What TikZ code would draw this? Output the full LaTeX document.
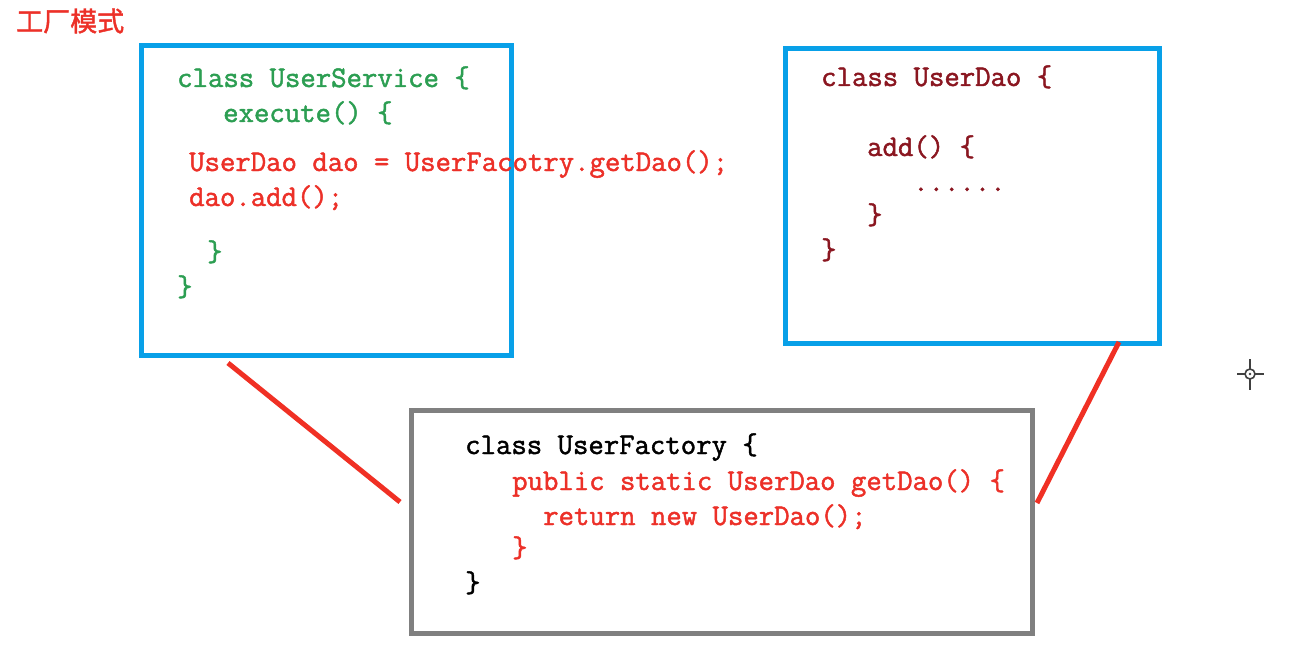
\documentclass[tikz,border=0pt]{standalone}
\usepackage{fontspec}
\newfontfamily\codefont{Latin Modern Mono}[FakeBold=1.6]
\newfontfamily\cjk[FakeBold=1.5]{Noto Sans CJK SC}
\definecolor{boxblue}{RGB}{8,160,232}
\definecolor{boxgray}{RGB}{128,128,128}
\definecolor{codegreen}{RGB}{44,158,82}
\definecolor{codered}{RGB}{236,48,40}
\definecolor{codedark}{RGB}{138,22,32}
\definecolor{linered}{RGB}{240,48,36}
\begin{document}
\begin{tikzpicture}[x=1pt,y=-1pt,
  code/.style={anchor=base west,inner sep=0pt,font=\codefont\fontsize{29.9}{29.9}\selectfont},
  bluebox/.style={draw=boxblue,line width=5pt,anchor=north west,inner sep=0pt,outer sep=0pt},
  graybox/.style={draw=boxgray,line width=5pt,anchor=north west,inner sep=0pt,outer sep=0pt},
  link/.style={draw=linered,line width=5pt}]
\useasboundingbox (0,0) rectangle (1303,666);
% title
\node[anchor=west,inner sep=0pt,text=codered,font=\cjk\fontsize{27}{27}\selectfont] (title) at (16,21) {工厂模式};
% boxes
\node[bluebox,minimum width=370pt,minimum height=309pt] (service) at (141,46) {};
\node[bluebox,minimum width=374pt,minimum height=294pt] (dao) at (785,49) {};
\node[graybox,minimum width=621pt,minimum height=223pt] (factory) at (411,410) {};
% UserService text
\node[code,text=codegreen] (s1) at (177,87) {class UserService \{};
\node[code,text=codegreen] (s2) at (223,122) {execute() \{};
\node[code,text=codered] (s3) at (189,171) {UserDao dao = UserFacotry.getDao();};
\node[code,text=codered] (s4) at (189,206) {dao.add();};
\node[code,text=codegreen] (s5) at (207,261) {\}};
\node[code,text=codegreen] (s6) at (177,296) {\}};
% UserDao text
\node[code,text=codedark] (d1) at (821,86) {class UserDao \{};
\node[code,text=codedark] (d2) at (867,156) {add() \{};
\node[code,text=codedark] (d3) at (913,191) {......};
\node[code,text=codedark] (d4) at (867,224) {\}};
\node[code,text=codedark] (d5) at (821,259) {\}};
% UserFactory text
\node[code,text=black] (f1) at (465,454) {class UserFactory \{};
\node[code,text=codered] (f2) at (512,490) {public static UserDao getDao() \{};
\node[code,text=codered] (f3) at (543,525) {return new UserDao();};
\node[code,text=codered] (f4) at (512,557) {\}};
\node[code,text=black] (f5) at (465,592) {\}};
% connectors
\coordinate (sEnd) at (228,363);
\coordinate (fLeft) at (400,502);
\coordinate (dEnd) at (1119,342);
\coordinate (fRight) at (1037,503);
\draw[link] (sEnd) -- (fLeft);
\draw[link] (dEnd) -- (fRight);
% crosshair cursor
\coordinate (cur) at (1250,374);
\draw[line width=1.6pt,draw=black!75] (cur) circle (5);
\fill[black!75] (cur) circle (1.3);
\draw[line width=1.6pt,draw=black!75] (1237,374) -- (1245,374) (1255,374) -- (1264,374)
  (1250,359) -- (1250,369) (1250,379) -- (1250,390);
\end{tikzpicture}
\end{document}
